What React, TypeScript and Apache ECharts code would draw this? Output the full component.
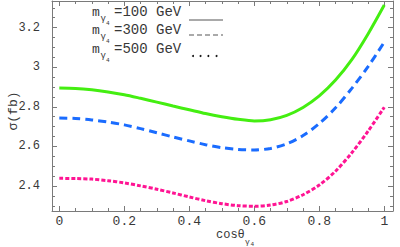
import React, { useEffect, useRef } from "react";
import * as echarts from "echarts";

const cosTheta = [0, 0.05, 0.1, 0.15, 0.2, 0.25, 0.3, 0.35, 0.4, 0.45, 0.5, 0.55, 0.6, 0.65, 0.7, 0.75, 0.8, 0.85, 0.9, 0.95, 1];
const sigma100 = [2.895, 2.893, 2.886, 2.875, 2.861, 2.843, 2.824, 2.804, 2.785, 2.766, 2.75, 2.737, 2.729, 2.735, 2.757, 2.797, 2.855, 2.935, 3.038, 3.168, 3.314];
const sigma300 = [2.744, 2.741, 2.734, 2.723, 2.709, 2.69, 2.669, 2.648, 2.628, 2.609, 2.594, 2.585, 2.582, 2.59, 2.613, 2.655, 2.716, 2.795, 2.893, 3.003, 3.127];
const sigma500 = [2.439, 2.438, 2.435, 2.427, 2.416, 2.401, 2.384, 2.365, 2.345, 2.326, 2.311, 2.301, 2.298, 2.304, 2.322, 2.356, 2.405, 2.475, 2.568, 2.677, 2.798];

const xMajor = [0, 0.2, 0.4, 0.6, 0.8, 1];
const xMinor = [0.05, 0.1, 0.15, 0.25, 0.3, 0.35, 0.45, 0.5, 0.55, 0.65, 0.7, 0.75, 0.85, 0.9, 0.95];
const yMajor = [2.4, 2.6, 2.8, 3, 3.2];
const yMinor = [2.3, 2.35, 2.45, 2.5, 2.55, 2.65, 2.7, 2.75, 2.85, 2.9, 2.95, 3.05, 3.1, 3.15, 3.25, 3.3];

const legendMasses = ["100", "300", "500"];

const X_MIN = -0.0225;
const X_MAX = 1.0268;
const Y_MIN = 2.274;
const Y_MAX = 3.3345;

const FONT = "'Liberation Mono', 'DejaVu Sans Mono', monospace";
const AXIS_COLOR = "#7a7a7a";
const TEXT_COLOR = "#383838";

function xAxisCfg(position: string, major: boolean) {
  return {
    type: "value",
    position,
    min: X_MIN,
    max: X_MAX,
    axisLine: { show: major, onZero: false, lineStyle: { color: AXIS_COLOR, width: 1 } },
    splitLine: { show: false },
    axisTick: {
      show: true,
      inside: true,
      length: major ? 5 : 3,
      customValues: major ? xMajor : xMinor,
      lineStyle: { color: AXIS_COLOR, width: 1 },
    },
    axisLabel: {
      show: major && position === "bottom",
      customValues: xMajor,
      margin: 4,
      color: TEXT_COLOR,
      fontFamily: FONT,
      fontSize: 13,
      formatter: (v: number) => String(+v.toFixed(2)),
    },
  };
}

function yAxisCfg(position: string, major: boolean) {
  return {
    type: "value",
    position,
    min: Y_MIN,
    max: Y_MAX,
    axisLine: { show: major, onZero: false, lineStyle: { color: AXIS_COLOR, width: 1 } },
    splitLine: { show: false },
    axisTick: {
      show: true,
      inside: true,
      length: major ? 5 : 3,
      customValues: major ? yMajor : yMinor,
      lineStyle: { color: AXIS_COLOR, width: 1 },
    },
    axisLabel: {
      show: major && position === "left",
      customValues: yMajor,
      margin: 12,
      color: TEXT_COLOR,
      fontFamily: FONT,
      fontSize: 12,
      formatter: (v: number) => String(+v.toFixed(2)),
    },
  };
}

export default function App() {
  const ref = useRef<HTMLDivElement>(null);
  useEffect(() => {
    if (!ref.current) return;
    const chart = echarts.init(ref.current, null, { renderer: "svg" });

    const legendGraphics: any[] = [];
    const rowY = [19, 37, 56];
    legendMasses.forEach((m, i) => {
      const by = rowY[i];
      legendGraphics.push(
        { type: "text", x: 92, y: by, style: { text: "m", font: `13px ${FONT}`, fill: TEXT_COLOR, textVerticalAlign: "bottom" } },
        { type: "text", x: 100.5, y: by + 4, style: { text: "γ", font: `9px ${FONT}`, fill: TEXT_COLOR, textVerticalAlign: "bottom" } },
        { type: "text", x: 106, y: by + 7, style: { text: "4", font: `6px ${FONT}`, fill: TEXT_COLOR, textVerticalAlign: "bottom" } },
        { type: "text", x: 114, y: by, style: { text: `=${m} GeV`, font: `14px ${FONT}`, fill: TEXT_COLOR, textVerticalAlign: "bottom" } }
      );
    });
    legendGraphics.push(
      { type: "line", shape: { x1: 189, y1: 20, x2: 223, y2: 20 }, style: { stroke: "#555", lineWidth: 1 } },
      { type: "line", shape: { x1: 189, y1: 35, x2: 223, y2: 35 }, style: { stroke: "#aaa", lineWidth: 2, lineDash: [5, 3] } }
    );
    [193, 200.5, 208.3, 216.5].forEach((cx) => {
      legendGraphics.push({ type: "circle", shape: { cx, cy: 56, r: 1 }, style: { fill: "#111" } });
    });

    const lineSeries = (vals: number[], lineStyle: any) => ({
      type: "line",
      xAxisIndex: 0,
      yAxisIndex: 0,
      smooth: 0.3,
      showSymbol: false,
      data: cosTheta.map((x, i) => [x, vals[i]]),
      lineStyle,
    });

    chart.setOption({
      animation: false,
      backgroundColor: "#fff",
      grid: { left: 52, right: 7, top: 1, bottom: 36, containLabel: false },
      xAxis: [xAxisCfg("bottom", true), xAxisCfg("bottom", false), xAxisCfg("top", true), xAxisCfg("top", false)],
      yAxis: [yAxisCfg("left", true), yAxisCfg("left", false), yAxisCfg("right", true), yAxisCfg("right", false)],
      series: [
        lineSeries(sigma100, { color: "#44ee11", width: 3 }),
        lineSeries(sigma300, { color: "#1a6cff", width: 3, type: [8, 5] }),
        lineSeries(sigma500, { color: "#ff1493", width: 3, type: [4, 2] }),
      ],
      graphic: [
        ...legendGraphics,
        {
          type: "text",
          x: 13,
          y: 111,
          rotation: Math.PI / 2,
          style: { text: "σ(fb)", font: `13px ${FONT}`, fill: TEXT_COLOR, textAlign: "center", textVerticalAlign: "middle" },
        },
        { type: "text", x: 216, y: 241, style: { text: "cosθ", font: `12px ${FONT}`, fill: TEXT_COLOR, textVerticalAlign: "bottom" } },
        { type: "text", x: 245, y: 245, style: { text: "γ", font: `8px ${FONT}`, fill: TEXT_COLOR, textVerticalAlign: "bottom" } },
        { type: "text", x: 250.5, y: 247, style: { text: "4", font: `6px ${FONT}`, fill: TEXT_COLOR, textVerticalAlign: "bottom" } },
      ],
    });
    return () => chart.dispose();
  }, []);
  return <div ref={ref} style={{ width: 400, height: 247, position: "fixed", left: 0, top: 0 }} />;
}
